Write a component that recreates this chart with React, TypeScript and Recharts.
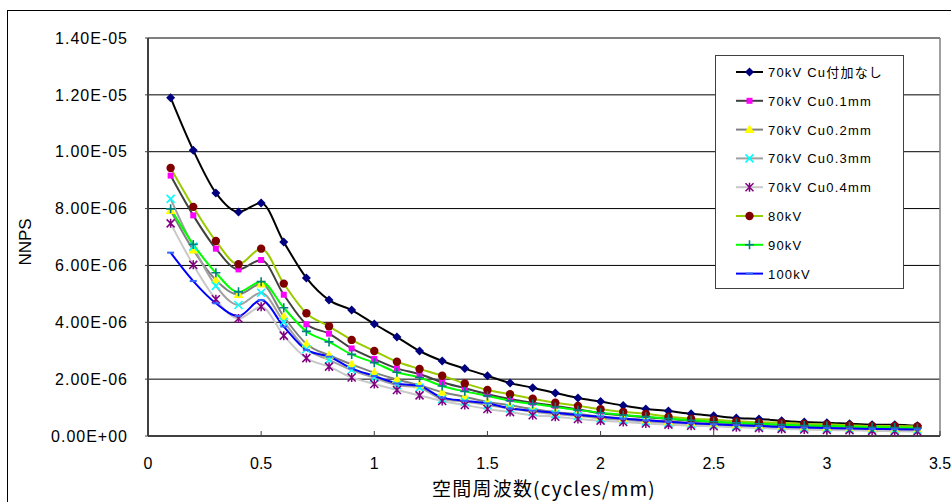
import React from 'react';
import { LineChart, Line, XAxis, YAxis, CartesianGrid, Legend, ReferenceLine, Label } from 'recharts';

// 空間周波数 (cycles/mm)
const frequencies = [
    0.1, 0.2, 0.3, 0.4, 0.5, 0.6, 0.7, 0.8, 0.9, 1.0,
    1.1, 1.2, 1.3, 1.4, 1.5, 1.6, 1.7, 1.8, 1.9, 2.0,
    2.1, 2.2, 2.3, 2.4, 2.5, 2.6, 2.7, 2.8, 2.9, 3.0,
    3.1, 3.2, 3.3, 3.4,
];

// NNPS per condition
const kv70NoCu = [
    11.9e-6, 10.05e-6, 8.55e-6, 7.88e-6, 8.2e-6, 6.82e-6, 5.56e-6, 4.78e-6, 4.43e-6, 3.94e-6,
    3.48e-6, 2.99e-6, 2.64e-6, 2.37e-6, 2.12e-6, 1.86e-6, 1.7e-6, 1.51e-6, 1.34e-6, 1.21e-6,
    1.07e-6, 0.95e-6, 0.88e-6, 0.78e-6, 0.71e-6, 0.63e-6, 0.6e-6, 0.54e-6, 0.49e-6, 0.47e-6,
    0.43e-6, 0.4e-6, 0.4e-6, 0.36e-6,
];
const kv70Cu01 = [
    9.16e-6, 7.76e-6, 6.59e-6, 5.86e-6, 6.19e-6, 4.97e-6, 3.93e-6, 3.6e-6, 3.08e-6, 2.71e-6,
    2.38e-6, 2.18e-6, 1.89e-6, 1.68e-6, 1.47e-6, 1.3e-6, 1.17e-6, 1.06e-6, 0.94e-6, 0.8e-6,
    0.73e-6, 0.66e-6, 0.6e-6, 0.54e-6, 0.49e-6, 0.45e-6, 0.42e-6, 0.39e-6, 0.36e-6, 0.34e-6,
    0.32e-6, 0.3e-6, 0.29e-6, 0.27e-6,
];
const kv70Cu02 = [
    7.93e-6, 6.54e-6, 5.49e-6, 4.98e-6, 5.35e-6, 4.2e-6, 3.24e-6, 2.84e-6, 2.52e-6, 2.23e-6,
    1.99e-6, 1.79e-6, 1.54e-6, 1.38e-6, 1.2e-6, 1.08e-6, 0.95e-6, 0.84e-6, 0.77e-6, 0.68e-6,
    0.62e-6, 0.56e-6, 0.51e-6, 0.46e-6, 0.42e-6, 0.39e-6, 0.36e-6, 0.33e-6, 0.31e-6, 0.29e-6,
    0.27e-6, 0.25e-6, 0.24e-6, 0.23e-6,
];
const kv70Cu03 = [
    8.34e-6, 6.66e-6, 5.28e-6, 4.61e-6, 5.04e-6, 4.02e-6, 3.06e-6, 2.68e-6, 2.32e-6, 2.05e-6,
    1.79e-6, 1.7e-6, 1.3e-6, 1.21e-6, 1.09e-6, 0.97e-6, 0.85e-6, 0.77e-6, 0.71e-6, 0.62e-6,
    0.56e-6, 0.51e-6, 0.46e-6, 0.42e-6, 0.38e-6, 0.35e-6, 0.32e-6, 0.3e-6, 0.28e-6, 0.26e-6,
    0.24e-6, 0.23e-6, 0.22e-6, 0.21e-6,
];
const kv70Cu04 = [
    7.48e-6, 6.02e-6, 4.81e-6, 4.13e-6, 4.55e-6, 3.53e-6, 2.74e-6, 2.44e-6, 2.06e-6, 1.83e-6,
    1.62e-6, 1.43e-6, 1.23e-6, 1.09e-6, 0.95e-6, 0.84e-6, 0.73e-6, 0.68e-6, 0.6e-6, 0.54e-6,
    0.49e-6, 0.44e-6, 0.4e-6, 0.36e-6, 0.34e-6, 0.31e-6, 0.28e-6, 0.25e-6, 0.23e-6, 0.21e-6,
    0.2e-6, 0.18e-6, 0.17e-6, 0.16e-6,
];
const kv80 = [
    9.43e-6, 8.06e-6, 6.86e-6, 6.04e-6, 6.59e-6, 5.36e-6, 4.32e-6, 3.86e-6, 3.38e-6, 2.99e-6,
    2.61e-6, 2.36e-6, 2.12e-6, 1.85e-6, 1.62e-6, 1.47e-6, 1.31e-6, 1.17e-6, 1.06e-6, 0.94e-6,
    0.85e-6, 0.78e-6, 0.68e-6, 0.61e-6, 0.57e-6, 0.52e-6, 0.48e-6, 0.47e-6, 0.42e-6, 0.41e-6,
    0.38e-6, 0.35e-6, 0.35e-6, 0.34e-6,
];
const kv90 = [
    7.99e-6, 6.74e-6, 5.74e-6, 5.07e-6, 5.43e-6, 4.51e-6, 3.68e-6, 3.31e-6, 2.87e-6, 2.58e-6,
    2.24e-6, 2.06e-6, 1.76e-6, 1.57e-6, 1.41e-6, 1.24e-6, 1.13e-6, 1.02e-6, 0.91e-6, 0.82e-6,
    0.74e-6, 0.68e-6, 0.61e-6, 0.55e-6, 0.5e-6, 0.46e-6, 0.43e-6, 0.4e-6, 0.37e-6, 0.35e-6,
    0.33e-6, 0.31e-6, 0.3e-6, 0.28e-6,
];
const kv100 = [
    6.45e-6, 5.45e-6, 4.67e-6, 4.22e-6, 4.78e-6, 3.85e-6, 3.03e-6, 2.79e-6, 2.38e-6, 2.11e-6,
    1.85e-6, 1.76e-6, 1.35e-6, 1.24e-6, 1.15e-6, 0.97e-6, 0.89e-6, 0.82e-6, 0.74e-6, 0.68e-6,
    0.61e-6, 0.55e-6, 0.5e-6, 0.45e-6, 0.41e-6, 0.38e-6, 0.35e-6, 0.32e-6, 0.3e-6, 0.28e-6,
    0.26e-6, 0.25e-6, 0.24e-6, 0.23e-6,
];

const seriesNames = [
    '70kV Cu付加なし',
    '70kV Cu0.1mm',
    '70kV Cu0.2mm',
    '70kV Cu0.3mm',
    '70kV Cu0.4mm',
    '80kV',
    '90kV',
    '100kV',
];

const xTicks = [0, 0.5, 1, 1.5, 2, 2.5, 3, 3.5];
const yTicks = [0, 2e-6, 4e-6, 6e-6, 8e-6, 1e-5, 1.2e-5, 1.4e-5];

type MarkerKind = 'diamond' | 'square' | 'triangle' | 'cross' | 'star' | 'circle' | 'plus' | 'dash';

const seriesStyles: { key: string; values: number[]; line: string; marker: MarkerKind; markerColor: string }[] = [
    { key: 's0', values: kv70NoCu, line: '#000000', marker: 'diamond', markerColor: '#000080' },
    { key: 's1', values: kv70Cu01, line: '#404040', marker: 'square', markerColor: '#ff00ff' },
    { key: 's2', values: kv70Cu02, line: '#808080', marker: 'triangle', markerColor: '#ffff00' },
    { key: 's3', values: kv70Cu03, line: '#a0a0a0', marker: 'cross', markerColor: '#00ffff' },
    { key: 's4', values: kv70Cu04, line: '#c8c8c8', marker: 'star', markerColor: '#800080' },
    { key: 's5', values: kv80, line: '#99cc00', marker: 'circle', markerColor: '#800000' },
    { key: 's6', values: kv90, line: '#00ff00', marker: 'plus', markerColor: '#008080' },
    { key: 's7', values: kv100, line: '#0000ff', marker: 'dash', markerColor: '#3366ff' },
];

const chartData = frequencies.map((f, i) => {
    const row: any = { freq: f };
    seriesStyles.forEach((s) => { row[s.key] = s.values[i]; });
    return row;
});

const formatSci = (v: number) => {
    if (v === 0) return '0.00E+00';
    const [m, e] = v.toExponential(2).split('e');
    const n = parseInt(e, 10);
    return `${m}E${n < 0 ? '-' : '+'}${String(Math.abs(n)).padStart(2, '0')}`;
};

const Marker = ({ kind, cx, cy, color }: { kind: MarkerKind; cx: number; cy: number; color: string }) => {
    switch (kind) {
        case 'diamond':
            return <polygon points={`${cx},${cy - 4.5} ${cx + 4.5},${cy} ${cx},${cy + 4.5} ${cx - 4.5},${cy}`} fill={color} />;
        case 'square':
            return <rect x={cx - 3} y={cy - 3} width={6} height={6} fill={color} />;
        case 'triangle':
            return <polygon points={`${cx},${cy - 5} ${cx + 5},${cy + 3.5} ${cx - 5},${cy + 3.5}`} fill={color} />;
        case 'cross':
            return <path d={`M${cx - 4},${cy - 4}L${cx + 4},${cy + 4}M${cx + 4},${cy - 4}L${cx - 4},${cy + 4}`} stroke={color} strokeWidth={1.6} />;
        case 'star':
            return (
                <path
                    d={`M${cx - 4},${cy - 4}L${cx + 4},${cy + 4}M${cx + 4},${cy - 4}L${cx - 4},${cy + 4}M${cx},${cy - 4.5}L${cx},${cy + 4.5}`}
                    stroke={color}
                    strokeWidth={1.5}
                />
            );
        case 'circle':
            return <circle cx={cx} cy={cy} r={4.2} fill={color} />;
        case 'plus':
            return <path d={`M${cx - 4.5},${cy}L${cx + 4.5},${cy}M${cx},${cy - 4.5}L${cx},${cy + 4.5}`} stroke={color} strokeWidth={1.6} />;
        default:
            return <rect x={cx - 3.5} y={cy - 1} width={7} height={2} fill={color} />;
    }
};

const LegendBox = () => (
    <svg width={190} height={235} style={{ display: 'block' }}>
        <rect x={0.5} y={0.5} width={188} height={233} fill="#fff" stroke="#404040" />
        {seriesStyles.map((s, i) => {
            const cy = 17 + i * 28.8;
            return (
                <g key={s.key}>
                    <line x1={21} x2={48} y1={cy} y2={cy} stroke={s.line} strokeWidth={2} />
                    <Marker kind={s.marker} cx={34.5} cy={cy} color={s.markerColor} />
                    <text
                        x={53}
                        y={cy + 5}
                        fontSize={13}
                        letterSpacing={1.2}
                        fontFamily="'Liberation Sans', 'Noto Sans CJK JP', sans-serif"
                        fill="#000"
                    >
                        {seriesNames[i]}
                    </text>
                </g>
            );
        })}
    </svg>
);

export default function App() {
    return (
        <div
            style={{
                position: 'fixed',
                left: 7,
                top: 10,
                width: 944,
                height: 492,
                overflow: 'hidden',
                borderLeft: '1px solid #000',
                borderTop: '1px solid #000',
                background: '#fff',
            }}
        >
            <LineChart
                width={943}
                height={491}
                data={chartData}
                margin={{ top: 27, right: 11, bottom: 0, left: 0 }}
            >
                <CartesianGrid horizontal vertical={false} stroke="#000" strokeWidth={1} />
                <XAxis
                    dataKey="freq"
                    type="number"
                    domain={[0, 3.5]}
                    ticks={xTicks}
                    interval={0}
                    height={66}
                    tickSize={-5}
                    tickMargin={27}
                    axisLine={{ stroke: '#404040', strokeWidth: 2 }}
                    tickLine={{ stroke: '#404040' }}
                    tick={{ fill: '#000', fontSize: 16, fontFamily: "'Liberation Sans Narrow', 'Liberation Sans', sans-serif" }}
                >
                    <Label
                        content={({ viewBox }: any) => (
                            <text
                                x={viewBox.x + viewBox.width / 2}
                                y={viewBox.y + 60}
                                textAnchor="middle"
                                fontSize={19}
                                letterSpacing={1.2}
                                fontFamily="'Noto Sans CJK JP', sans-serif"
                                fill="#000"
                            >
                                空間周波数(cycles/mm)
                            </text>
                        )}
                    />
                </XAxis>
                <YAxis
                    type="number"
                    domain={[0, 1.4e-5]}
                    ticks={yTicks}
                    interval={0}
                    width={140}
                    tickSize={3}
                    tickMargin={17}
                    tickFormatter={formatSci}
                    axisLine={{ stroke: '#404040', strokeWidth: 2 }}
                    tickLine={{ stroke: '#404040' }}
                    tick={{ fill: '#000', fontSize: 16, letterSpacing: 1, fontFamily: "'Liberation Sans', sans-serif" }}
                >
                    <Label
                        content={({ viewBox }: any) => {
                            const cx = viewBox.x + 17;
                            const cy = viewBox.y + viewBox.height / 2 + 5;
                            return (
                                <text
                                    x={cx}
                                    y={cy}
                                    transform={`rotate(-90 ${cx} ${cy})`}
                                    textAnchor="middle"
                                    dominantBaseline="central"
                                    fontSize={17}
                                    fontFamily="'Liberation Sans', sans-serif"
                                    fill="#000"
                                >
                                    NNPS
                                </text>
                            );
                        }}
                    />
                </YAxis>
                <ReferenceLine x={3.5} stroke="#808080" strokeWidth={1.5} />
                {seriesStyles.map((s) => (
                    <Line
                        key={s.key}
                        type="monotone"
                        dataKey={s.key}
                        name={s.key}
                        stroke={s.line}
                        strokeWidth={2}
                        isAnimationActive={false}
                        activeDot={false}
                        dot={(p: any) => (
                            <g key={`${s.key}-${p.index}`}>
                                <Marker kind={s.marker} cx={p.cx} cy={p.cy} color={s.markerColor} />
                            </g>
                        )}
                    />
                ))}
                <Legend
                    layout="vertical"
                    align="center"
                    verticalAlign="middle"
                    wrapperStyle={{ left: 707, top: 44, width: 190, height: 235 }}
                    content={() => <LegendBox />}
                />
            </LineChart>
        </div>
    );
}
